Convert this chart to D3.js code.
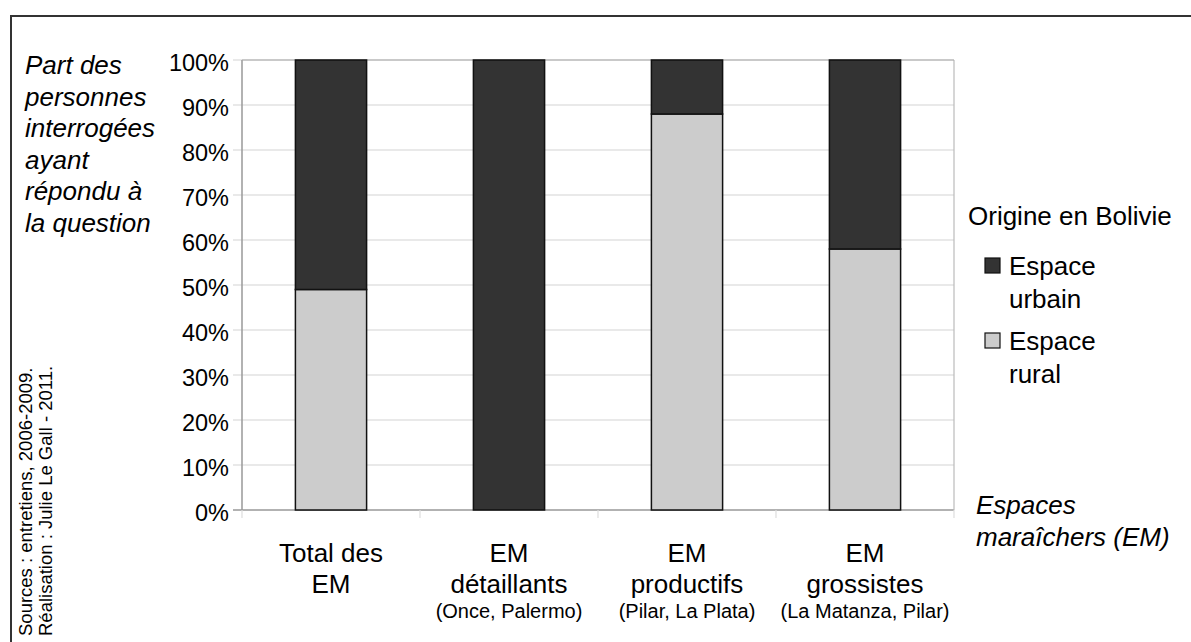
<!DOCTYPE html>
<html>
<head>
<meta charset="utf-8">
<script src="https://cdn.jsdelivr.net/npm/d3@7"></script>
<style>
  body { margin: 0; background: #fff; }
  text { font-family: "Liberation Sans", Arial, sans-serif; fill: #000; }
</style>
</head>
<body>
<script>
// data
var categories = ["Total des EM", "EM détaillants", "EM productifs", "EM grossistes"];
var catLines = [["Total des", "EM"], ["EM", "détaillants"], ["EM", "productifs"], ["EM", "grossistes"]];
var catSub = ["", "(Once, Palermo)", "(Pilar, La Plata)", "(La Matanza, Pilar)"];
var rural = [49, 0, 88, 58];
var urbain = [51, 100, 12, 42];
var yTicks = [0, 10, 20, 30, 40, 50, 60, 70, 80, 90, 100];
var seriesNames = ["Espace urbain", "Espace rural"];

var svgWidth = 1191, svgHeight = 642;
var margin = { top: 60, left: 242, right: 237, bottom: 132 };
var width = svgWidth - margin.left - margin.right;
var height = svgHeight - margin.top - margin.bottom;

var svg = d3.select("body").append("svg")
  .attr("width", svgWidth)
  .attr("height", svgHeight);

// outer frame (runs off the right and bottom)
svg.append("path")
  .attr("d", "M11,650 L11,16 L1200,16")
  .attr("fill", "none")
  .attr("stroke", "#333")
  .attr("stroke-width", 2);

var chart = svg.append("g")
  .attr("transform", "translate(" + margin.left + "," + margin.top + ")");

var x = d3.scaleBand().domain(categories).range([0, width]).paddingInner(0).paddingOuter(0);
var y = d3.scaleLinear().domain([0, 100]).range([height, 0]);

// gridlines
chart.selectAll(".grid")
  .data(yTicks.filter(function(d) { return d > 0; }))
  .enter().append("line")
  .attr("x1", -9).attr("x2", width)
  .attr("y1", function(d) { return y(d); })
  .attr("y2", function(d) { return y(d); })
  .attr("stroke", "#d4d4d4")
  .attr("stroke-width", 1.2);

// bottom axis line + ticks
chart.append("line")
  .attr("x1", -9).attr("x2", width)
  .attr("y1", height).attr("y2", height)
  .attr("stroke", "#999").attr("stroke-width", 1.5);
chart.selectAll(".xtick")
  .data(d3.range(categories.length + 1))
  .enter().append("line")
  .attr("x1", function(i) { return i * x.bandwidth(); })
  .attr("x2", function(i) { return i * x.bandwidth(); })
  .attr("y1", height).attr("y2", height + 8)
  .attr("stroke", "#ddd").attr("stroke-width", 1.2);

// plot borders
chart.append("line")
  .attr("x1", 0).attr("x2", 0).attr("y1", 0).attr("y2", height)
  .attr("stroke", "#999").attr("stroke-width", 1.5);
chart.append("line")
  .attr("x1", width).attr("x2", width).attr("y1", 0).attr("y2", height)
  .attr("stroke", "#bbb").attr("stroke-width", 1.2);
chart.append("line")
  .attr("x1", 0).attr("x2", width).attr("y1", 0).attr("y2", 0)
  .attr("stroke", "#aaa").attr("stroke-width", 1.2);

// y tick labels
chart.selectAll(".ylab")
  .data(yTicks)
  .enter().append("text")
  .attr("x", -13)
  .attr("y", function(d) { return y(d) + 11; })
  .attr("text-anchor", "end")
  .style("font-size", "23.5px")
  .text(function(d) { return d + "%"; });

// stacked bars
var barW = x.bandwidth() * 0.4;
var g = chart.append("g");
categories.forEach(function(c, i) {
  var bx = x(c) + (x.bandwidth() - barW) / 2;
  if (rural[i] > 0) {
    g.append("rect")
      .attr("x", bx).attr("width", barW)
      .attr("y", y(rural[i])).attr("height", y(0) - y(rural[i]))
      .attr("fill", "#cccccc").attr("stroke", "#111").attr("stroke-width", 1.5);
  }
  if (urbain[i] > 0) {
    g.append("rect")
      .attr("x", bx).attr("width", barW)
      .attr("y", y(rural[i] + urbain[i])).attr("height", y(rural[i]) - y(rural[i] + urbain[i]))
      .attr("fill", "#333333").attr("stroke", "#111").attr("stroke-width", 1.5);
  }
});

// category labels
categories.forEach(function(c, i) {
  var cx = x(c) + x.bandwidth() / 2;
  catLines[i].forEach(function(t, j) {
    chart.append("text")
      .attr("x", cx).attr("y", height + 52 + j * 31)
      .attr("text-anchor", "middle")
      .style("font-size", "26px")
      .text(t);
  });
  if (catSub[i]) {
    chart.append("text")
      .attr("x", cx).attr("y", height + 108)
      .attr("text-anchor", "middle")
      .style("font-size", "20px")
      .text(catSub[i]);
  }
});

// y axis title
var yTitle = ["Part des", "personnes", "interrogées", "ayant", "répondu à", "la question"];
yTitle.forEach(function(t, j) {
  svg.append("text")
    .attr("x", 25).attr("y", 74 + j * 31.6)
    .style("font-size", "26px").style("font-style", "italic")
    .text(t);
});

// x axis title
["Espaces", "maraîchers (EM)"].forEach(function(t, j) {
  svg.append("text")
    .attr("x", 976).attr("y", 514 + j * 32)
    .style("font-size", "26px").style("font-style", "italic")
    .text(t);
});

// legend
svg.append("text")
  .attr("x", 968).attr("y", 225)
  .style("font-size", "26px")
  .text("Origine en Bolivie");
var legColors = ["#333333", "#cccccc"];
var legLines = [["Espace", "urbain"], ["Espace", "rural"]];
seriesNames.forEach(function(s, i) {
  var ly = 258 + i * 75;
  svg.append("rect")
    .attr("x", 985).attr("y", ly).attr("width", 15).attr("height", 15)
    .attr("fill", legColors[i]).attr("stroke", "#111").attr("stroke-width", 1.2);
  legLines[i].forEach(function(t, j) {
    svg.append("text")
      .attr("x", 1009).attr("y", ly + 17 + j * 32.5)
      .style("font-size", "26px")
      .text(t);
  });
});

// sources
["Sources : entretiens, 2006-2009.", "Réalisation : Julie Le Gall - 2011."].forEach(function(t, j) {
  svg.append("text")
    .attr("transform", "translate(" + (32 + j * 20) + ",636) rotate(-90)")
    .style("font-size", "18.5px")
    .text(t);
});
</script>
</body>
</html>
